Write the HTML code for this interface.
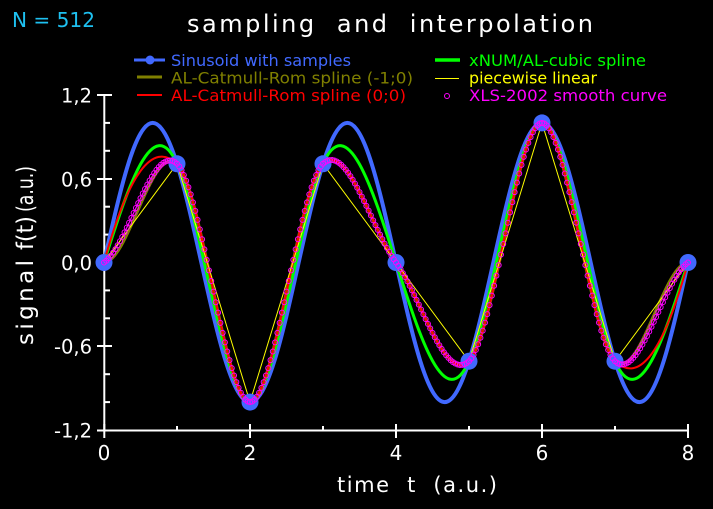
<!DOCTYPE html>
<html><head><meta charset="utf-8"><style>
html,body{margin:0;padding:0;background:#000;}
svg{display:block;}
text{font-family:"DejaVu Sans","Liberation Sans",sans-serif;white-space:pre;}
</style></head><body>
<svg id="s" width="713" height="509" viewBox="0 0 713 509" xmlns="http://www.w3.org/2000/svg">
<rect width="713" height="509" fill="#000"/>
<text x="12" y="27" font-size="20" fill="#1ec0f0" textLength="83" lengthAdjust="spacingAndGlyphs">N = 512</text>
<text x="187" y="32" font-size="24" fill="#fff" textLength="406" lengthAdjust="spacing">sampling  and  interpolation</text>

<!-- legend -->
<line x1="134" y1="60" x2="165" y2="60" stroke="#4169ff" stroke-width="3"/>
<circle cx="150" cy="60" r="4.5" fill="#4169ff"/>
<text x="171" y="66" font-size="16" fill="#4169ff" textLength="180" lengthAdjust="spacingAndGlyphs">Sinusoid with samples</text>
<line x1="137" y1="77" x2="162" y2="77" stroke="#808000" stroke-width="3"/>
<text x="171" y="83.5" font-size="16" fill="#808000" textLength="242" lengthAdjust="spacingAndGlyphs">AL-Catmull-Rom spline (-1;0)</text>
<line x1="137" y1="95" x2="162" y2="95" stroke="#ff0000" stroke-width="2"/>
<text x="171" y="101" font-size="16" fill="#ff0000" textLength="235" lengthAdjust="spacingAndGlyphs">AL-Catmull-Rom spline (0;0)</text>
<line x1="435" y1="60" x2="460" y2="60" stroke="#00ff00" stroke-width="3.5"/>
<text x="469" y="66" font-size="16" fill="#00ff00" textLength="177" lengthAdjust="spacingAndGlyphs">xNUM/AL-cubic spline</text>
<line x1="435" y1="78.5" x2="459" y2="78.5" stroke="#ffff00" stroke-width="1"/>
<text x="469" y="83.5" font-size="16" fill="#ffff00" textLength="128" lengthAdjust="spacingAndGlyphs">piecewise linear</text>
<circle cx="447" cy="96" r="2.5" fill="none" stroke="#ff00ff" stroke-width="1"/>
<text x="469" y="101" font-size="16" fill="#ff00ff" textLength="198" lengthAdjust="spacingAndGlyphs">XLS-2002 smooth curve</text>

<!-- axes -->
<g stroke="#fff" stroke-width="2">
<line x1="104.3" y1="94" x2="104.3" y2="431"/>
<line x1="103.3" y1="430.5" x2="689" y2="430.5"/>
<line x1="97" y1="95" x2="112" y2="95"/>
<line x1="97" y1="179" x2="112" y2="179"/>
<line x1="97" y1="262.5" x2="112" y2="262.5"/>
<line x1="97" y1="346" x2="112" y2="346"/>
<line x1="97" y1="430.5" x2="112" y2="430.5"/>
<line x1="104" y1="122.9" x2="110" y2="122.9"/>
<line x1="104" y1="150.8" x2="110" y2="150.8"/>
<line x1="104" y1="206.7" x2="110" y2="206.7"/>
<line x1="104" y1="234.6" x2="110" y2="234.6"/>
<line x1="104" y1="290.4" x2="110" y2="290.4"/>
<line x1="104" y1="318.3" x2="110" y2="318.3"/>
<line x1="104" y1="374.2" x2="110" y2="374.2"/>
<line x1="104" y1="402.1" x2="110" y2="402.1"/>
<line x1="104.3" y1="424" x2="104.3" y2="438"/>
<line x1="250" y1="424" x2="250" y2="438"/>
<line x1="396" y1="424" x2="396" y2="438"/>
<line x1="542" y1="424" x2="542" y2="438"/>
<line x1="688" y1="424" x2="688" y2="438"/>
<line x1="177" y1="426" x2="177" y2="430"/>
<line x1="323" y1="426" x2="323" y2="430"/>
<line x1="469" y1="426" x2="469" y2="430"/>
<line x1="615" y1="426" x2="615" y2="430"/>
</g>
<g fill="#fff" font-size="19.5" text-anchor="end">
<text x="92" y="102.5">1,2</text>
<text x="92" y="186.5">0,6</text>
<text x="92" y="270">0,0</text>
<text x="92" y="353.5">-0,6</text>
<text x="92" y="437.5">-1,2</text>
</g>
<g fill="#fff" font-size="20" text-anchor="middle">
<text x="104" y="460">0</text>
<text x="250" y="460">2</text>
<text x="396" y="460">4</text>
<text x="542" y="460">6</text>
<text x="688" y="460">8</text>
</g>
<text x="337" y="492" font-size="21" fill="#fff" textLength="160" lengthAdjust="spacing">time  t  (a.u.)</text>
<g transform="translate(33,0) rotate(-90)" fill="#fff" font-size="23">
<text x="-345" y="0" textLength="85" lengthAdjust="spacing">signal</text>
<text x="-250" y="0" textLength="34" lengthAdjust="spacingAndGlyphs">f(t)</text>
<text x="-212" y="0" textLength="46" lengthAdjust="spacingAndGlyphs">(a.u.)</text>
</g>

<!-- sinusoid -->
<path fill="none" stroke="#4169ff" stroke-width="4" stroke-linejoin="round" d="M104,262.5
C112.11,225.96 120.22,189.64 128.33,163.80
C136.44,137.96 144.56,122.92 152.67,122.92
C160.78,122.92 168.89,137.96 177,163.80
C185.11,189.64 193.22,225.96 201.33,262.5
C209.44,299.04 217.56,335.36 225.67,361.20
C233.78,387.04 241.89,402.08 250,402.08
C258.11,402.08 266.22,387.04 274.33,361.20
C282.44,335.36 290.56,299.04 298.67,262.5
C306.78,225.96 314.89,189.64 323,163.80
C331.11,137.96 339.22,122.92 347.33,122.92
C355.44,122.92 363.56,137.96 371.67,163.80
C379.78,189.64 387.89,225.96 396,262.5
C404.11,299.04 412.22,335.36 420.33,361.20
C428.44,387.04 436.56,402.08 444.67,402.08
C452.78,402.08 460.89,387.04 469,361.20
C477.11,335.36 485.22,299.04 493.33,262.5
C501.44,225.96 509.56,189.64 517.67,163.80
C525.78,137.96 533.89,122.92 542,122.92
C550.11,122.92 558.22,137.96 566.33,163.80
C574.44,189.64 582.56,225.96 590.67,262.5
C598.78,299.04 606.89,335.36 615,361.20
C623.11,387.04 631.22,402.08 639.33,402.08
C647.44,402.08 655.56,387.04 663.67,361.20
C671.78,335.36 679.89,299.04 688,262.5"/>

<!-- natural cubic spline -->
<path fill="none" stroke="#00ff00" stroke-width="3" d="M104,262.5
C128.33,186.16 152.67,109.82 177,163.80
C201.33,217.78 225.67,402.08 250,402.08
C274.33,402.08 298.67,217.78 323,163.80
C347.33,109.82 371.67,186.16 396,262.5
C420.33,338.84 444.67,415.18 469,361.20
C493.33,307.22 517.67,122.92 542,122.92
C566.33,122.92 590.67,307.22 615,361.20
C639.33,415.18 663.67,338.84 688,262.5"/>

<!-- olive CR -->
<path fill="none" stroke="#808000" stroke-width="3" d="M104,262.5
C128.33,262.5 152.67,140.54 177,163.80
C201.33,187.06 225.67,402.08 250,402.08
C274.33,402.08 298.67,187.06 323,163.80
C347.33,140.54 371.67,229.60 396,262.5
C420.33,295.40 444.67,384.46 469,361.20
C493.33,337.94 517.67,122.92 542,122.92
C566.33,122.92 590.67,337.94 615,361.20
C639.33,384.46 663.67,262.5 688,262.5"/>

<!-- magenta underlying path -->
<path fill="none" stroke="#ff00ff" stroke-width="1.2" d="M104,262.5
C128.33,246.05 152.67,140.54 177,163.80
C201.33,187.06 225.67,402.08 250,402.08
C274.33,402.08 298.67,187.06 323,163.80
C347.33,140.54 371.67,229.60 396,262.5
C420.33,295.40 444.67,384.46 469,361.20
C493.33,337.94 517.67,122.92 542,122.92
C566.33,122.92 590.67,337.94 615,361.20
C639.33,384.46 663.67,278.95 688,262.5"/>

<!-- red CR -->
<path fill="none" stroke="#ff0000" stroke-width="2" d="M104,262.5
C128.33,173.44 152.67,140.54 177,163.80
C201.33,187.06 225.67,402.08 250,402.08
C274.33,402.08 298.67,187.06 323,163.80
C347.33,140.54 371.67,229.60 396,262.5
C420.33,295.40 444.67,384.46 469,361.20
C493.33,337.94 517.67,122.92 542,122.92
C566.33,122.92 590.67,337.94 615,361.20
C639.33,384.46 663.67,351.56 688,262.5"/>

<!-- piecewise linear -->
<polyline fill="none" stroke="#ffff00" stroke-width="1" points="104,262.5 177,163.8 250,402.08 323,163.8 396,262.5 469,361.2 542,122.92 615,361.2 688,262.5"/>

<!-- sample dots -->
<g fill="#4169ff">
<circle cx="104" cy="262.5" r="8.5"/>
<circle cx="177" cy="163.8" r="8.5"/>
<circle cx="250" cy="402.08" r="8.5"/>
<circle cx="323" cy="163.8" r="8.5"/>
<circle cx="396" cy="262.5" r="8.5"/>
<circle cx="469" cy="361.2" r="8.5"/>
<circle cx="542" cy="122.92" r="8.5"/>
<circle cx="615" cy="361.2" r="8.5"/>
<circle cx="688" cy="262.5" r="8.5"/>
</g>
<g id="mg" fill="none" stroke="#ff00ff" stroke-width="1"></g>
</svg>
<script>
(function(){
var a=Math.SQRT1_2;
var ys=[0,a,-1,a,0,-a,1,-a,0];
var m=[a/2,-0.5,0,0.5,-a,0.5,0,-0.5,a/2];
var g=document.getElementById('mg');
var N=256,ns='http://www.w3.org/2000/svg';
for(var j=0;j<=N;j++){
 var t=8*j/N;var i=Math.min(Math.floor(t),7);var s=t-i;
 var s2=s*s,s3=s2*s;
 var v=(2*s3-3*s2+1)*ys[i]+(s3-2*s2+s)*m[i]+(-2*s3+3*s2)*ys[i+1]+(s3-s2)*m[i+1];
 var c=document.createElementNS(ns,'circle');
 c.setAttribute('cx',(104+73*t).toFixed(2));
 c.setAttribute('cy',(262.5-139.583*v).toFixed(2));
 c.setAttribute('r','2.5');
 g.appendChild(c);
}
})();
</script>
</body></html>
